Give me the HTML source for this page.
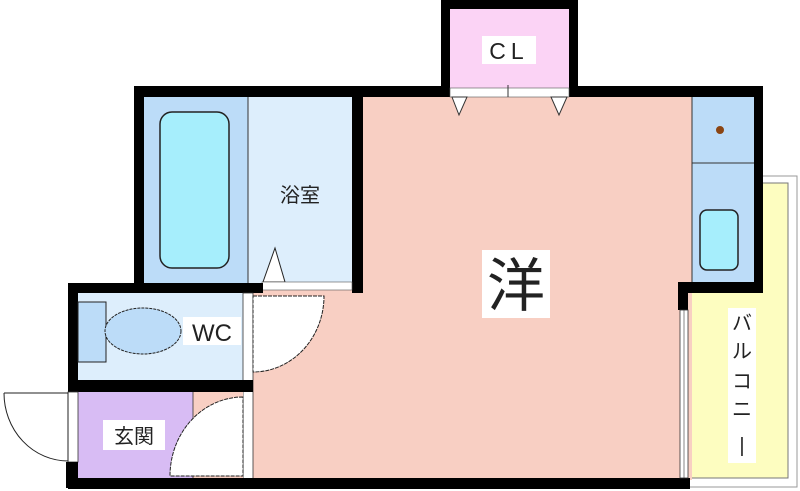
<!DOCTYPE html>
<html><head><meta charset="utf-8"><style>
html,body{margin:0;padding:0;background:#fff;width:800px;height:491px;overflow:hidden}
svg{display:block}
text{font-family:"Liberation Sans","Noto Sans CJK JP",sans-serif;fill:#222}
</style></head><body>
<svg width="800" height="491" viewBox="0 0 800 491" xmlns="http://www.w3.org/2000/svg">
<rect x="688" y="176" width="109" height="311" fill="#fff" stroke="#999" stroke-width="1"/>
<rect x="690" y="183" width="98" height="295" fill="#fdfdc0" stroke="#777" stroke-width="1"/>
<rect x="250" y="95" width="442" height="385" fill="#f8cfc3"/>
<!-- top wall -->
<rect x="134" y="86" width="629" height="11" fill="#000"/>
<!-- CL -->
<rect x="441" y="0" width="137" height="97" fill="#000"/>
<rect x="450" y="9" width="119" height="79" fill="#fbd3f5"/>
<rect x="450" y="88" width="119" height="9" fill="#fff" stroke="#555" stroke-width="0.6"/>
<line x1="508" y1="85" x2="508" y2="97" stroke="#333"/>
<polygon points="452,97 467,97 459,115" fill="#fff" stroke="#333" stroke-width="1"/>
<polygon points="551,97 567,97 559,115" fill="#fff" stroke="#333" stroke-width="1"/>
<rect x="482" y="36" width="54" height="28" fill="#fff"/>
<text x="509" y="59" font-size="23" text-anchor="middle" letter-spacing="5">CL</text>
<!-- bath -->
<rect x="134" y="86" width="10" height="207" fill="#000"/>
<rect x="144" y="97" width="104" height="186" fill="#bcdcf8"/>
<rect x="248" y="97" width="104" height="186" fill="#ddeefc"/>
<line x1="248" y1="97" x2="248" y2="283" stroke="#333" stroke-width="1"/>
<rect x="160" y="112" width="69" height="156" rx="12" fill="#a6eefc" stroke="#222" stroke-width="1.5"/>
<rect x="352" y="86" width="11" height="207" fill="#000"/>
<text x="300" y="202" font-size="20" text-anchor="middle">浴室</text>
<polygon points="263,282 285,282 275,248" fill="#fff" stroke="#222" stroke-width="1"/>
<rect x="262" y="282" width="90" height="8" fill="#fff" stroke="#555" stroke-width="0.6"/>
<!-- WC -->
<rect x="68" y="283" width="195" height="10" fill="#000"/>
<rect x="68" y="283" width="10" height="205" fill="#000"/>
<rect x="78" y="293" width="165" height="87" fill="#ddeefc"/>
<rect x="78" y="302" width="28" height="60" fill="#bcdcf8" stroke="#222" stroke-width="1"/>
<ellipse cx="143" cy="331" rx="38" ry="23" fill="#bcdcf8" stroke="#222" stroke-width="1" stroke-dasharray="3,1"/>
<rect x="183" y="317" width="58" height="28" fill="#fff"/>
<text x="212" y="341" font-size="24" text-anchor="middle">WC</text>
<rect x="243" y="293" width="10" height="195" fill="#fff" stroke="#333" stroke-width="0.8"/>
<path d="M253,296 L324,296 A71,76 0 0 1 253,372 Z" fill="#fff" stroke="#222" stroke-width="1" stroke-dasharray="4,1"/>
<rect x="68" y="380" width="185" height="12" fill="#000"/>
<!-- genkan -->
<rect x="78" y="392" width="115" height="86" fill="#d8bcf4"/>
<rect x="193" y="392" width="50" height="86" fill="#f8cfc3"/>
<line x1="193" y1="392" x2="193" y2="478" stroke="#333" stroke-width="0.8"/>
<path d="M243,397 A73,79 0 0 0 170,476 L243,476 Z" fill="#fff" stroke="#222" stroke-width="1" stroke-dasharray="4,1"/>
<rect x="103" y="420" width="62" height="30" fill="#fff"/>
<text x="134" y="443" font-size="20" text-anchor="middle">玄関</text>
<rect x="68" y="392" width="10" height="70" fill="#fff" stroke="#333" stroke-width="0.8"/>
<path d="M4,393 L68,393 L68,461 A64,68 0 0 1 4,393" fill="#fff" stroke="#222" stroke-width="1"/>
<rect x="66" y="462" width="12" height="26" fill="#000"/>
<rect x="68" y="478" width="622" height="11" fill="#000"/>
<!-- kitchen -->
<rect x="692" y="97" width="63" height="186" fill="#bcdcf8"/>
<line x1="692" y1="97" x2="692" y2="283" stroke="#333" stroke-width="1"/>
<line x1="692" y1="163" x2="755" y2="163" stroke="#333" stroke-width="1"/>
<circle cx="720" cy="130" r="4" fill="#8b4513"/>
<rect x="700" y="210" width="38" height="60" rx="7" fill="#a6eefc" stroke="#222" stroke-width="1.5"/>
<rect x="754" y="86" width="9" height="207" fill="#000"/>
<rect x="678" y="282" width="85" height="11" fill="#000"/>
<rect x="678" y="282" width="10" height="28" fill="#000"/>
<rect x="680" y="310" width="8" height="168" fill="#fff" stroke="#333" stroke-width="0.8"/>
<line x1="684" y1="310" x2="684" y2="478" stroke="#333" stroke-width="0.6"/>
<rect x="482" y="250" width="68" height="68" fill="#fff"/>
<text x="516" y="306" font-size="58" text-anchor="middle">洋</text>
<rect x="728" y="308" width="28" height="155" fill="#fff"/>
<text x="742" y="330" font-size="20" text-anchor="middle">バ</text>
<text x="742" y="358" font-size="20" text-anchor="middle">ル</text>
<text x="742" y="388" font-size="20" text-anchor="middle">コ</text>
<text x="742" y="416" font-size="20" text-anchor="middle">ニ</text>
<text x="742" y="452" font-size="20" text-anchor="middle">|</text>
</svg>
</body></html>
